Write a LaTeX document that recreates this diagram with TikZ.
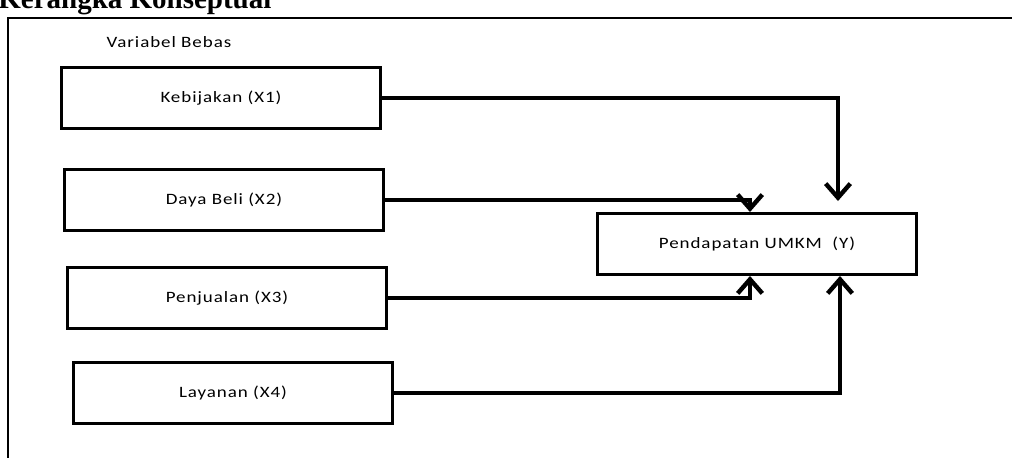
\documentclass[tikz,border=0pt]{standalone}
\usepackage{fontspec}
\setmainfont{Carlito}
\newfontfamily\boxfont[FakeStretch=1.2,LetterSpace=6]{Carlito}
\newfontfamily\titlefont{Liberation Serif}
\usepackage{tikz}
\usetikzlibrary{positioning}
\usetikzlibrary{arrows.meta}
\tikzstyle{varbox}=[rectangle,draw,line width=1.7pt,minimum width=6.4cm,minimum height=1.22cm,inner sep=0pt,font=\boxfont\fontsize{9}{11}\selectfont]
\tikzstyle{link} = [draw,line width=2.5pt,-{Straight Barb[length=8pt,width=14pt]}]
\tikzstyle{frame} = [draw,line width=0.85pt]

\begin{document}
\begin{tikzpicture}[x=0.02cm,y=-0.02cm]

  \useasboundingbox (0,0) rectangle (1012,457);

  \node[anchor=base west,inner sep=0pt,font=\titlefont\bfseries\fontsize{16.5}{18}\selectfont] (title) at (-2,8) {Kerangka Konseptual};
  \draw[frame] (8,470) -- (8,18) -- (1020,18);

  \node[font=\boxfont\fontsize{9}{11}\selectfont] (bebas) at (169,42) {Variabel Bebas};

   \foreach \x/\y/\name/\label in {221/98/X1/Kebijakan (X1), 224/200/X2/Daya Beli (X2), 227/298/X3/Penjualan (X3), 233/393/X4/Layanan (X4)}
          \node[varbox] (\name) at (\x,\y) {\label};

   \node[varbox] (Y) at (757,244) {Pendapatan UMKM\ \ (Y)};

  % ke atas kotak Y
  \path[link,shorten >=11*0.02cm] (X1.east) -| ([xshift=81*0.02cm]Y.north);
  \path[link] (X2.east) -| ([xshift=-7*0.02cm]Y.north);

  % ke bawah kotak Y
  \path[link] (X3.east) -| ([xshift=-7*0.02cm]Y.south);
  \path[link] (X4.east) -| ([xshift=83*0.02cm]Y.south);

\end{tikzpicture}
\end{document}
